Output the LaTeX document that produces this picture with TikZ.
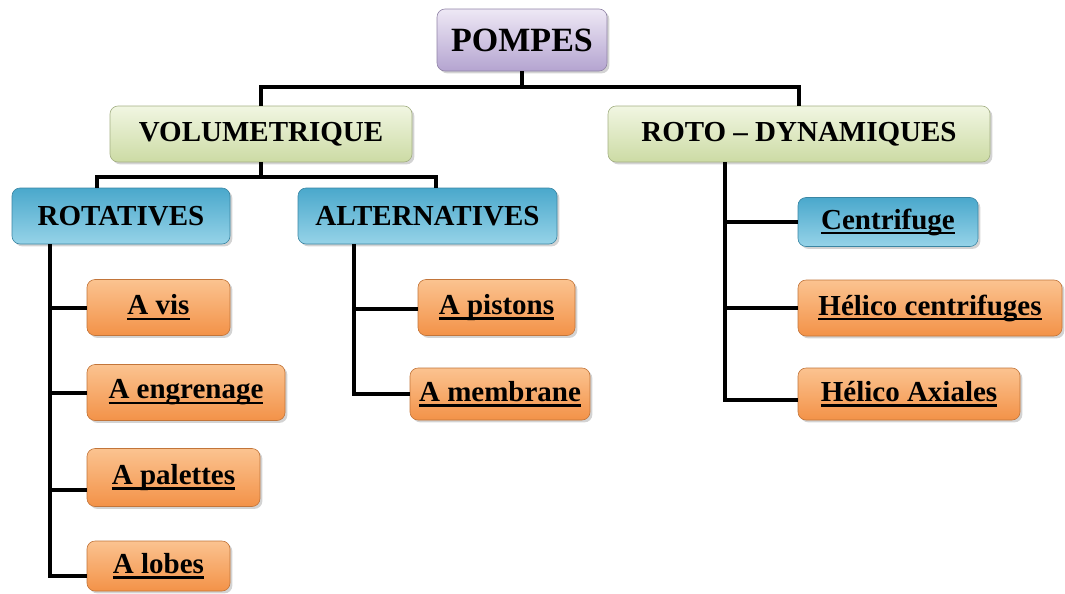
\documentclass[tikz,border=0pt]{standalone}
\usepackage{fontspec}
\setmainfont{Liberation Serif}
\usetikzlibrary{shadows}

\newcommand{\souligne}[1]{\setbox0\hbox{#1}\rlap{\copy0}\rule[-2.6pt]{\wd0}{1.1pt}}

\definecolor{lilasH}{HTML}{EEE8F5}
\definecolor{lilasB}{HTML}{B4A4D0}
\definecolor{vertH}{HTML}{F1F6E2}
\definecolor{vertB}{HTML}{CCDBA4}
\definecolor{bleuH}{HTML}{4AA8CC}
\definecolor{bleuB}{HTML}{96D3E8}
\definecolor{orangeH}{HTML}{FBC390}
\definecolor{orangeB}{HTML}{F39248}

\begin{document}
\begin{tikzpicture}[x=0.5pt, y=-0.5pt, font=\bfseries\fontsize{14.5}{17}\selectfont,
    boite/.style={rectangle, rounded corners=4pt, inner sep=2pt, line width=0.3pt, minimum height=28pt,
        drop shadow={opacity=0.35, shadow xshift=1.2pt, shadow yshift=-1.2pt}},
    tete/.style={boite, draw=lilasB!80!black, top color=lilasH, bottom color=lilasB},
    famille/.style={boite, draw=vertB!80!black, top color=vertH, bottom color=vertB},
    classe/.style={boite, draw=bleuH!80!black, top color=bleuH, bottom color=bleuB},
    sorte/.style={boite, draw=orangeB!80!black, top color=orangeH, bottom color=orangeB},
    lien/.style={line width=2pt}]
    \useasboundingbox (0,0) rectangle (1065,594);

    \node[tete, minimum width=85pt, minimum height=31pt, font=\bfseries\fontsize{17}{20}\selectfont] (pompes) at (522,40) {POMPES};

    \node[famille, minimum width=151pt] (volu) at (261,134) {VOLUMETRIQUE};
    \node[famille, minimum width=191pt] (roto) at (799,134) {ROTO – DYNAMIQUES};

    \node[classe, minimum width=109pt] (rota) at (121,216) {ROTATIVES};
    \node[classe, minimum width=129.5pt] (alter) at (427.5,216) {ALTERNATIVES};
    \node[classe, minimum width=90pt, minimum height=24.5pt] (centri) at (888,222) {\souligne{Centrifuge}};

    \node[sorte, minimum width=71.5pt] (avis) at (158.5,307.5) {\souligne{A vis}};
    \node[sorte, minimum width=99pt] (aeng) at (186,392.5) {\souligne{A engrenage}};
    \node[sorte, minimum width=86.5pt, minimum height=29pt] (apal) at (173.5,477.5) {\souligne{A palettes}};
    \node[sorte, minimum width=71.5pt, minimum height=25pt] (alob) at (158.5,566) {\souligne{A lobes}};

    \node[sorte, minimum width=78.5pt] (apis) at (496.5,307.5) {\souligne{A pistons}};
    \node[sorte, minimum width=90pt, minimum height=26pt] (amem) at (500,394) {\souligne{A membrane}};

    \node[sorte, minimum width=132pt] (hcen) at (930,308) {\souligne{Hélico centrifuges}};
    \node[sorte, minimum width=111pt, minimum height=26pt] (hax) at (909,394) {\souligne{Hélico Axiales}};

    \path (pompes.south) ++(0,16) coordinate (j0);
    \draw[lien] (pompes.south) -- (j0);
    \draw[lien] (volu.north) |- (j0) -| (roto.north);

    \path (volu.south) ++(0,15) coordinate (j1);
    \draw[lien] (volu.south) -- (j1);
    \draw[lien] ([xshift=-12pt]rota.north) |- (j1) -| ([xshift=4pt]alter.north);

    \coordinate (r0) at ([xshift=-35.5pt]rota.south);
    \foreach \n/\dy in {avis/0,aeng/0,apal/-6,alob/-5}
        \draw[lien] (r0) |- ([yshift=\dy pt]\n.west);
    \coordinate (a0) at ([xshift=-37pt]alter.south);
    \foreach \n/\dy in {apis/-0.5,amem/0}
        \draw[lien] (a0) |- ([yshift=\dy pt]\n.west);
    \coordinate (d0) at ([xshift=-37pt]roto.south);
    \foreach \n/\dy in {centri/0,hcen/0,hax/-3}
        \draw[lien] (d0) |- ([yshift=\dy pt]\n.west);
\end{tikzpicture}
\end{document}
